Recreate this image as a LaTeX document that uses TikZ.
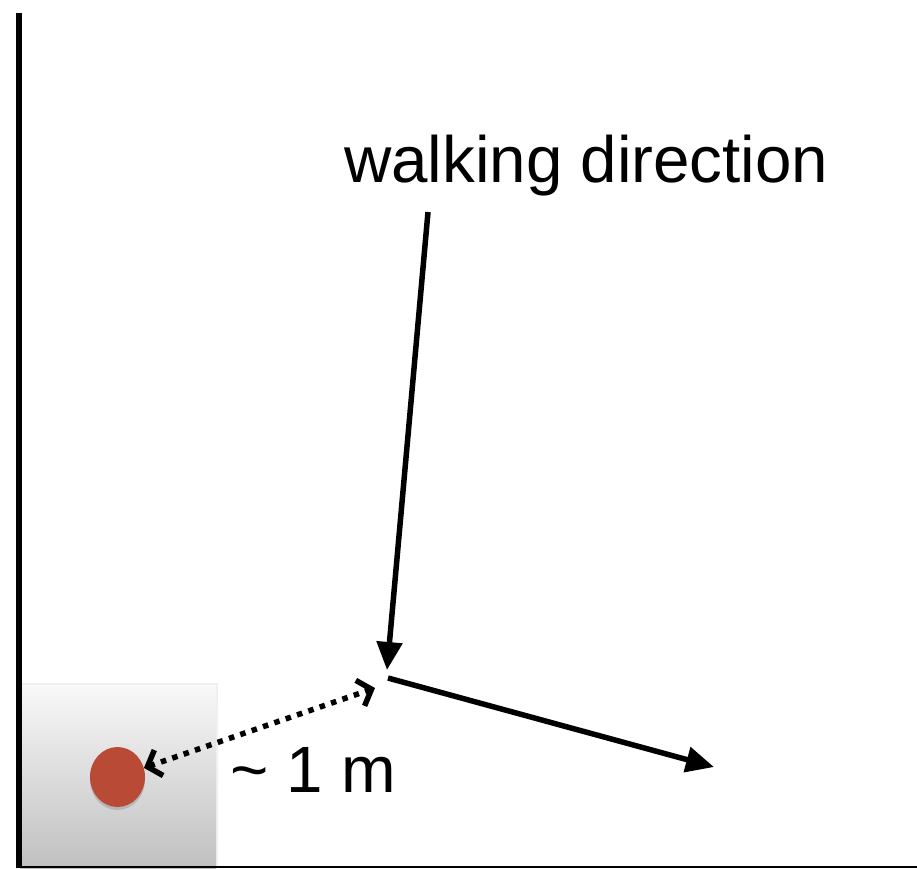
\documentclass[tikz,border=0pt]{standalone}
\usepackage{fontspec}
\setmainfont{Liberation Sans}
\usetikzlibrary{arrows.meta,shapes.geometric,shadows,calc}
\definecolor{dotred}{RGB}{184,74,54}
\definecolor{boxtop}{RGB}{248,248,248}
\definecolor{boxbot}{RGB}{192,192,192}
\tikzset{
  bigtext/.style={font=\fontsize{65.5}{72}\selectfont, inner sep=0pt, anchor=base west},
  walkarrow/.style={line width=5.5pt, -{Triangle[length=28pt,width=25pt]}},
  barbtip/.tip={Straight Barb[length=12pt,width=27pt,line cap=butt]},
  distline/.style={line width=5.5pt, dash pattern=on 5.5pt off 6.5pt, shorten <=6pt, shorten >=6pt},
  disttip/.style={line width=5.5pt, solid, -{barbtip}},
  wall/.style={line width=5.5pt},
}
\begin{document}
\begin{tikzpicture}[x=1pt,y=-1pt]
\useasboundingbox (0,0) rectangle (917,868);
% grey area
\shade[top color=boxtop, bottom color=boxbot, drop shadow={opacity=0.12, shadow xshift=2pt, shadow yshift=2pt}] (20,685) rectangle (216,868);
% walls
\draw[wall] (19,13) -- (19,868);
\draw[line width=2pt] (19,867) -- (917,867);
% red dot
\node[ellipse, minimum width=55pt, minimum height=60pt, inner sep=0pt, fill=dotred,
  drop shadow={opacity=0.35, shadow xshift=0pt, shadow yshift=-3pt}] (dot) at (117.5,777) {};
% labels
\node[bigtext] (wd) at (344,182) {walking direction};
\node[bigtext] (dist) at (230,792) {\textasciitilde\ 1 m};
% coordinates
\coordinate (wstart) at (428,212);
\coordinate (wtip) at (387,670);
\coordinate (tstart) at (388,678);
\coordinate (ttip) at (714,767);
\coordinate (dtip) at (375,688);
\coordinate (dend) at (dot.19);
% arrows
\draw[walkarrow] (wstart) -- (wtip);
\draw[walkarrow] (tstart) -- (ttip);
\draw[distline] (dend) -- (dtip);
\draw[disttip] ($(dtip)!10pt!(dend)$) -- (dtip);
\draw[disttip] ($(dend)!10pt!(dtip)$) -- (dend);
\end{tikzpicture}
\end{document}
